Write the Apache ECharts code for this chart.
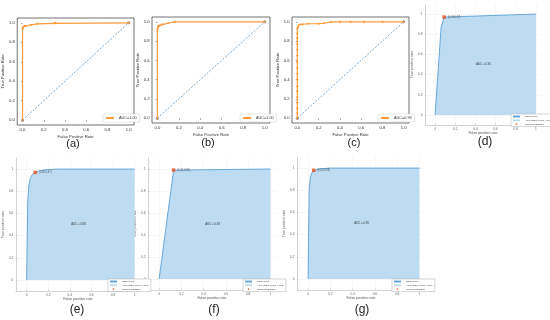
<!DOCTYPE html>
<html><head><meta charset="utf-8">
<script src="https://cdn.jsdelivr.net/npm/echarts@6/dist/echarts.min.js"></script>
<style>html,body{margin:0;padding:0;background:#fff}#c{width:550px;height:320px}</style>
</head><body><div id="c"></div>
<script>
// ---- data ----
const tickValues = [0, 0.2, 0.4, 0.6, 0.8, 1];
const diagonal = [[0, 0], [1, 1]];
const rocA = [[0,0],[0,0.94],[0.005,0.955],[0.015,0.965],[0.03,0.97],[0.08,0.98],[0.14,0.99],[0.3,0.995],[0.31,1],[1,1]];
const rocB = [[0,0],[0,0.92],[0.005,0.94],[0.01,0.955],[0.02,0.96],[0.04,0.97],[0.06,0.975],[0.1,0.985],[0.16,1],[1,1]];
const rocC = [[0,0],[0,0.05],[0,0.1],[0,0.16],[0,0.22],[0,0.28],[0,0.33],[0,0.4],[0,0.46],[0,0.52],[0,0.58],[0,0.65],[0,0.71],[0,0.77],[0,0.83],[0,0.88],[0,0.93],[0.005,0.95],[0.02,0.97],[0.05,0.975],[0.1,0.98],[0.2,0.98],[0.25,0.985],[0.32,1],[0.4,1],[0.5,1],[0.63,1],[0.8,1],[1,1]];
const aucLabelsTop = ['AUC=1.00', 'AUC=1.00', 'AUC=0.99'];
const rocD = [[0,0],[0.06,0.87],[0.09,0.97],[1,1]];
const rocE = [[0,0],[0.003,0.2],[0.01,0.7],[0.02,0.85],[0.035,0.92],[0.055,0.955],[0.08,0.97],[0.12,0.985],[0.18,0.995],[0.3,1],[1,1]];
const rocF = [[0,0],[0.13,0.99],[1,1]];
const rocG = [[0,0],[0.005,0.5],[0.01,0.8],[0.02,0.92],[0.035,0.96],[0.055,0.98],[0.1,0.993],[0.2,1],[1,1]];
const pointD = [0.09, 0.97], pointE = [0.08, 0.97], pointF = [0.13, 0.99], pointG = [0.05, 0.98];
const aucLabelsBottom = ['AUC = 0.95', 'AUC = 0.98', 'AUC = 0.93', 'AUC = 0.99'];
const panelLabels = ['(a)', '(b)', '(c)', '(d)', '(e)', '(f)', '(g)'];

// ---- layout / style ----
const FONT = 'Liberation Sans, Arial, sans-serif';
const grids = [
  {left: 17, top: 18, width: 117, height: 107},
  {left: 152, top: 17, width: 118, height: 106},
  {left: 292, top: 17, width: 117, height: 106},
  {left: 425, top: 4, width: 116, height: 121},
  {left: 12, top: 158, width: 128, height: 133},
  {left: 148, top: 158, width: 128, height: 132},
  {left: 297, top: 157, width: 128, height: 133}
].map(g => Object.assign({containLabel: false}, g));
grids[0].show = grids[1].show = grids[2].show = true;
[0,1,2].forEach(i => { grids[i].borderColor = '#333'; grids[i].borderWidth = 0.7; grids[i].backgroundColor = 'rgba(0,0,0,0)'; });

const xAxes = [], yAxes = [];
for (let i = 0; i < 3; i++) {
  const common = {
    type: 'value', gridIndex: i, min: -0.05, max: 1.05,
    axisLine: {show: false},
    axisTick: {show: true, customValues: tickValues, length: 1.5, lineStyle: {color: '#333', width: 0.5}},
    axisLabel: {customValues: tickValues, fontSize: 4.2, color: '#333', margin: 2.5, fontFamily: FONT, formatter: v => v.toFixed(1)},
    splitLine: {show: false},
    nameLocation: 'middle', nameTextStyle: {fontSize: 4.2, color: '#333', fontFamily: FONT}
  };
  xAxes.push(Object.assign({}, common, {name: 'False Positive Rate', nameGap: 10}));
  yAxes.push(Object.assign({}, common, {name: 'True Positive Rate', nameGap: 11}));
}
for (let i = 3; i < 7; i++) {
  const common = {
    type: 'value', gridIndex: i,
    axisLine: {show: true, onZero: false, lineStyle: {color: '#b5b5b5', width: 0.6}},
    axisTick: {show: true, inside: true, customValues: tickValues, length: 1.5, lineStyle: {color: '#b5b5b5', width: 0.5}},
    axisLabel: {customValues: tickValues, fontSize: 3.2, color: '#666', margin: 2.5, fontFamily: FONT, formatter: v => String(+v.toFixed(1))},
    splitLine: {show: true, lineStyle: {color: '#eee', width: 0.5}},
    nameLocation: 'middle', nameTextStyle: {fontSize: 3.6, color: '#555', fontFamily: FONT}
  };
  xAxes.push(Object.assign({}, common, {min: -0.1, max: 1.05, name: 'False positive rate', nameGap: 6}));
  yAxes.push(Object.assign({}, common, {min: -0.1, max: 1.1, name: 'True positive rate', nameGap: 8}));
}

const ORANGE = '#fb9a3a', BLUE = '#4f93c8';
const FILL = '#bddcf2', LINE = '#5aa0d6', RED = '#e8501d';
const series = [];
const legends = [];
const topRocs = [rocA, rocB, rocC];
const topLegendPos = [{left: 103, top: 114}, {left: 240, top: 114}, {left: 378, top: 114}];
topRocs.forEach((roc, i) => {
  series.push({
    type: 'line', name: aucLabelsTop[i], xAxisIndex: i, yAxisIndex: i, data: roc,
    symbol: 'circle', symbolSize: 2.2, showSymbol: true, color: ORANGE,
    lineStyle: {color: ORANGE, width: 1.2}, itemStyle: {color: ORANGE}, animation: false, z: 3
  });
  series.push({
    type: 'line', name: 'diag' + i, xAxisIndex: i, yAxisIndex: i, data: diagonal,
    symbol: 'circle', symbolSize: 3, color: BLUE,
    lineStyle: {color: BLUE, width: 0.8, type: [2, 1.5]}, itemStyle: {color: '#6a8fae'}, animation: false, z: 2
  });
  legends.push(Object.assign({
    data: [aucLabelsTop[i]], orient: 'vertical', itemWidth: 8, itemHeight: 2, itemGap: 0,
    padding: [2, 3], borderColor: '#ccc', borderWidth: 0.5, borderRadius: 1, backgroundColor: '#fff',
    textStyle: {fontSize: 3.8, color: '#333', fontFamily: FONT}, selectedMode: false,
    icon: 'rect'
  }, topLegendPos[i]));
});

const botRocs = [rocD, rocE, rocF, rocG];
const botPoints = [pointD, pointE, pointF, pointG];
const botLegendPos = [{left: 511, top: 114}, {left: 108, top: 279}, {left: 243, top: 279}, {left: 392, top: 279}];
botRocs.forEach((roc, k) => {
  const i = k + 3;
  series.push({
    type: 'line', name: 'Area under curve (AUC)', xAxisIndex: i, yAxisIndex: i, data: roc,
    symbol: 'none', lineStyle: {width: 0, color: FILL}, color: FILL, itemStyle: {color: FILL},
    areaStyle: {color: FILL, opacity: 1, origin: 0}, animation: false, z: 1,
    markPoint: {
      symbol: 'circle', symbolSize: 0, silent: true,
      data: [{coord: [0.48, 0.5], value: 0}],
      label: {show: true, position: 'inside', formatter: aucLabelsBottom[k], fontSize: 2.8, color: '#333', fontFamily: FONT}
    }
  });
  series.push({
    type: 'line', name: 'ROC curve', xAxisIndex: i, yAxisIndex: i, data: roc,
    symbol: 'none', color: LINE, lineStyle: {width: 0.9, color: LINE}, itemStyle: {color: LINE}, animation: false, z: 2
  });
  series.push({
    type: 'scatter', name: 'Current classifier', xAxisIndex: i, yAxisIndex: i, data: [botPoints[k]],
    symbol: 'rect', symbolSize: 3.5, color: RED, itemStyle: {color: RED}, animation: false, z: 4,
    label: {show: true, position: 'right', distance: 2,
      formatter: p => '(' + p.value[0].toFixed(2) + ',' + p.value[1].toFixed(2) + ')',
      fontSize: 2.6, color: '#333', fontFamily: FONT}
  });
  legends.push(Object.assign({
    data: [
      {name: 'ROC curve', icon: 'rect', itemStyle: {color: LINE}},
      {name: 'Area under curve (AUC)', icon: 'rect', itemStyle: {color: FILL}},
      {name: 'Current classifier', icon: 'circle', itemStyle: {color: RED}}
    ],
    orient: 'vertical', itemWidth: 7, itemHeight: 1.8, itemGap: 0.8,
    padding: [1, 2], borderColor: '#aaa', borderWidth: 0.5, backgroundColor: '#fff',
    textStyle: {fontSize: 2.5, color: '#333', fontFamily: FONT}, selectedMode: false
  }, botLegendPos[k]));
});

const labelPos = [[73, 144], [208, 143], [354, 143], [485, 142], [77, 310], [214, 310], [362, 310]];
const graphic = panelLabels.map((t, i) => ({
  type: 'text', x: labelPos[i][0], y: labelPos[i][1],
  style: {text: t, align: 'center', verticalAlign: 'middle', textAlign: 'center', textVerticalAlign: 'middle',
    fontSize: i < 3 ? 11 : 12, fill: '#222', fontFamily: FONT}
}));

const chart = echarts.init(document.getElementById('c'), null, {renderer: 'canvas', width: 550, height: 320});
chart.setOption({
  animation: false,
  grid: grids, xAxis: xAxes, yAxis: yAxes, series: series, legend: legends, graphic: graphic
});
</script></body></html>
